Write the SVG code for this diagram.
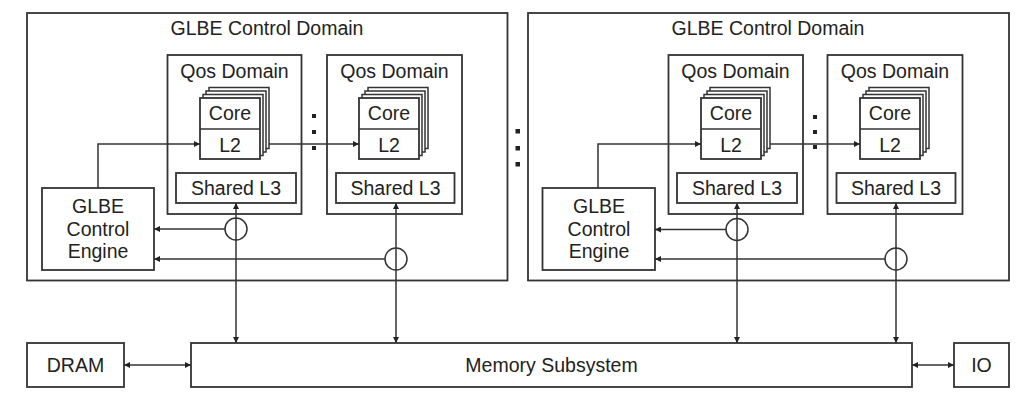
<svg xmlns="http://www.w3.org/2000/svg" width="1024" height="407" viewBox="0 0 1024 407">
<defs>
<style>
.box{fill:#fff;stroke:#333;stroke-width:1.8}
.lyr{fill:#fff;stroke:#333;stroke-width:1.5}
.ln{fill:none;stroke:#333;stroke-width:1.5}
.ah{marker-end:url(#arr)}
.ah2{marker-start:url(#arr);marker-end:url(#arr)}
.t{font-family:"Liberation Sans",Arial,sans-serif;font-size:19.5px;fill:#222;text-anchor:middle}
.dot{fill:#222}
</style>
<marker id="arr" viewBox="0 0 6 6" refX="6" refY="3" markerWidth="6" markerHeight="6" markerUnits="userSpaceOnUse" orient="auto-start-reverse">
<path d="M0,0 L6,3 L0,6 z" fill="#222"/>
</marker>
</defs>
<rect width="1024" height="407" fill="#fff"/>

<!-- Left GLBE Control Domain -->
<g id="glbe-domain-1">
<rect class="box" x="27" y="13" width="480.5" height="267.5"/>
<text class="t" x="267" y="35">GLBE Control Domain</text>
</g>
<g id="qos-1a">
<rect class="box" x="167.5" y="55" width="134" height="159"/>
<text class="t" x="234.5" y="78">Qos Domain</text>
</g>
<g id="core-1a">
<rect class="lyr" x="209" y="87.5" width="60" height="61"/>
<rect class="lyr" x="206" y="91" width="60" height="61"/>
<rect class="lyr" x="203" y="94.5" width="60" height="61"/>
<rect class="box" x="200" y="98" width="60" height="61"/>
<line class="ln" x1="200" y1="129" x2="260" y2="129"/>
<text class="t" x="230" y="120">Core</text>
<text class="t" x="230" y="151.5">L2</text>
</g>
<g id="l3-1a">
<rect class="box" x="176" y="173" width="120" height="30"/>
<text class="t" x="236" y="194.5">Shared L3</text>
</g>
<g id="qos-1b">
<rect class="box" x="327" y="55" width="135" height="159"/>
<text class="t" x="394.5" y="78">Qos Domain</text>
</g>
<g id="core-1b">
<rect class="lyr" x="368" y="87.5" width="60" height="61"/>
<rect class="lyr" x="365" y="91" width="60" height="61"/>
<rect class="lyr" x="362" y="94.5" width="60" height="61"/>
<rect class="box" x="359" y="98" width="60" height="61"/>
<line class="ln" x1="359" y1="129" x2="419" y2="129"/>
<text class="t" x="389" y="120">Core</text>
<text class="t" x="389" y="151.5">L2</text>
</g>
<g id="l3-1b">
<rect class="box" x="336" y="173" width="118.5" height="30"/>
<text class="t" x="395.5" y="194.5">Shared L3</text>
</g>
<g id="engine-1">
<rect class="box" x="42" y="188" width="112" height="82"/>
<text class="t" x="98" y="213">GLBE</text>
<text class="t" x="98" y="235.5">Control</text>
<text class="t" x="98" y="258">Engine</text>
</g>
<g id="junction-1a"><circle class="lyr" cx="236" cy="229" r="11"/></g>
<g id="junction-1b"><circle class="lyr" cx="396" cy="259" r="11"/></g>

<!-- Right GLBE Control Domain -->
<g id="glbe-domain-2">
<rect class="box" x="528" y="13" width="481" height="267.5"/>
<text class="t" x="768" y="35">GLBE Control Domain</text>
</g>
<g id="qos-2a">
<rect class="box" x="668.5" y="55" width="134.5" height="159"/>
<text class="t" x="735.5" y="78">Qos Domain</text>
</g>
<g id="core-2a">
<rect class="lyr" x="710" y="87.5" width="60" height="61"/>
<rect class="lyr" x="707" y="91" width="60" height="61"/>
<rect class="lyr" x="704" y="94.5" width="60" height="61"/>
<rect class="box" x="701" y="98" width="60" height="61"/>
<line class="ln" x1="701" y1="129" x2="761" y2="129"/>
<text class="t" x="731" y="120">Core</text>
<text class="t" x="731" y="151.5">L2</text>
</g>
<g id="l3-2a">
<rect class="box" x="677" y="173" width="120" height="30"/>
<text class="t" x="737" y="194.5">Shared L3</text>
</g>
<g id="qos-2b">
<rect class="box" x="827.5" y="55" width="135" height="159"/>
<text class="t" x="895" y="78">Qos Domain</text>
</g>
<g id="core-2b">
<rect class="lyr" x="869" y="87.5" width="60" height="61"/>
<rect class="lyr" x="866" y="91" width="60" height="61"/>
<rect class="lyr" x="863" y="94.5" width="60" height="61"/>
<rect class="box" x="860" y="98" width="60" height="61"/>
<line class="ln" x1="860" y1="129" x2="920" y2="129"/>
<text class="t" x="890" y="120">Core</text>
<text class="t" x="890" y="151.5">L2</text>
</g>
<g id="l3-2b">
<rect class="box" x="836.5" y="173" width="119" height="30"/>
<text class="t" x="896" y="194.5">Shared L3</text>
</g>
<g id="engine-2">
<rect class="box" x="542.5" y="188" width="112.5" height="82"/>
<text class="t" x="599" y="213">GLBE</text>
<text class="t" x="599" y="235.5">Control</text>
<text class="t" x="599" y="258">Engine</text>
</g>
<g id="junction-2a"><circle class="lyr" cx="737" cy="229.5" r="11"/></g>
<g id="junction-2b"><circle class="lyr" cx="896" cy="259" r="11"/></g>

<!-- Bottom row -->
<g id="dram">
<rect class="box" x="27" y="343" width="97" height="44"/>
<text class="t" x="75.5" y="372">DRAM</text>
</g>
<g id="memory">
<rect class="box" x="191" y="343" width="721" height="44"/>
<text class="t" x="551.5" y="372">Memory Subsystem</text>
</g>
<g id="io">
<rect class="box" x="954" y="343" width="55" height="44"/>
<text class="t" x="981.5" y="372">IO</text>
</g>

<!-- Ellipsis dots -->
<g id="dots">
<rect class="dot" x="312" y="114" width="4" height="4"/>
<rect class="dot" x="312" y="130" width="4" height="4"/>
<rect class="dot" x="312" y="146" width="4" height="4"/>
<rect class="dot" x="813" y="115" width="4" height="4"/>
<rect class="dot" x="813" y="130" width="4" height="4"/>
<rect class="dot" x="813" y="145" width="4" height="4"/>
<rect class="dot" x="515.5" y="129" width="4.5" height="4.5"/>
<rect class="dot" x="515.5" y="146" width="4.5" height="4.5"/>
<rect class="dot" x="515.5" y="162" width="4.5" height="4.5"/>
</g>

<!-- Connectors -->
<g id="connectors">
<path class="ln ah" d="M98,188 V144 H200"/>
<path class="ln ah" d="M269,144 H359"/>
<line class="ln ah2" x1="236" y1="203" x2="236" y2="343"/>
<line class="ln ah2" x1="396" y1="203" x2="396" y2="343"/>
<line class="ln ah" x1="225" y1="229" x2="154" y2="229"/>
<line class="ln ah" x1="385" y1="259" x2="154" y2="259"/>

<path class="ln ah" d="M598,188 V144 H701"/>
<path class="ln ah" d="M770,144 H860"/>
<line class="ln ah2" x1="737" y1="203" x2="737" y2="343"/>
<line class="ln ah2" x1="896" y1="203" x2="896" y2="343"/>
<line class="ln ah" x1="726" y1="229.5" x2="655" y2="229.5"/>
<line class="ln ah" x1="885" y1="259" x2="655" y2="259"/>

<line class="ln ah2" x1="124" y1="365" x2="191" y2="365"/>
<line class="ln ah2" x1="912" y1="365" x2="954" y2="365"/>
</g>
</svg>
